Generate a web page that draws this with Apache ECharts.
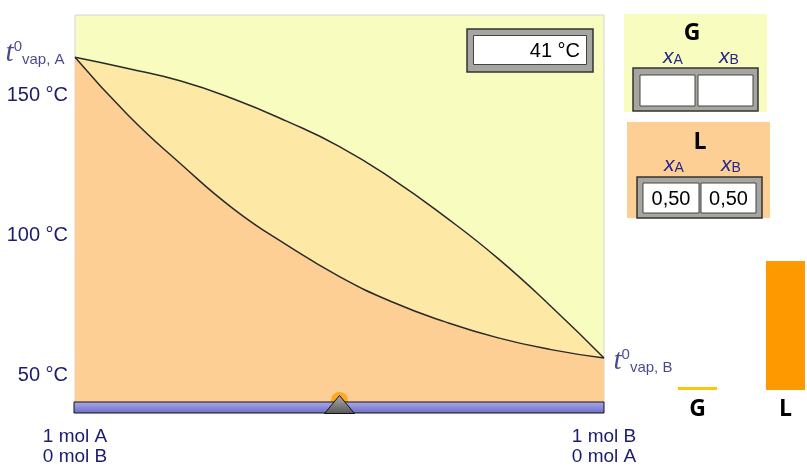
<!DOCTYPE html>
<html>
<head>
<meta charset="utf-8">
<script src="https://cdn.jsdelivr.net/npm/echarts@6/dist/echarts.min.js"></script>
<style>
  html, body { margin: 0; padding: 0; background: #ffffff; }
  #chart { width: 807px; height: 473px; }
</style>
</head>
<body>
<div id="chart"></div>
<script>
// Mole fraction of B along the composition axis
const compositionXB = [0, 0.1, 0.2, 0.3, 0.4, 0.5, 0.6, 0.7, 0.8, 0.9, 1];

// Boiling (liquidus) curve temperatures in °C
const liquidusT = [163.6, 143.0, 125.5, 109.4, 96.6, 85.3, 76.2, 69.1, 63.4, 59.2, 56.2];

// Dew (vapour) curve temperatures in °C
const vapourT = [163.6, 159.6, 155.1, 148.7, 140.8, 131.7, 120.1, 106.6, 91.7, 74.6, 56.2];

// Temperature axis
const tempTicks = [50, 100, 150];
const tempRange = [40.5, 178.7];

// Current state of the mixture
const stateXB = 0.5;
const stateT = 41;

// Phase amounts (mol) and compositions
const phaseNames = ['G', 'L'];
const phaseMoles = [0, 1];
const gasFractions = [null, null];      // xA, xB of the gas phase
const liquidFractions = [0.50, 0.50];   // xA, xB of the liquid phase

const NAVY = '#1b1b70';
const SANS = 'Liberation Sans, Arial, sans-serif';
const BOLD = 'Open Sans, Noto Sans, sans-serif';

const zone = { gas: '#F8FCBF', mix: '#FDE9A5', liquid: '#FDCF95' };

const pairs = (xs, ys) => xs.map((x, i) => [x, ys[i]]);
const fmt = v => (v == null ? '' : v.toFixed(2).replace('.', ','));

const chart = echarts.init(document.getElementById('chart'), null, { renderer: 'canvas' });

const tvapRich = {
  t: { fontFamily: 'Liberation Serif, serif', fontStyle: 'italic', fontSize: 29, color: NAVY, lineHeight: 28 },
  s: { fontFamily: SANS, fontSize: 15, color: NAVY, verticalAlign: 'top', lineHeight: 16 },
  v: { fontFamily: SANS, fontSize: 15, color: NAVY, verticalAlign: 'bottom', lineHeight: 16 }
};

chart.setOption({
  animation: false,
  grid: [
    { left: 75, top: 15, width: 529, height: 387, show: true,
      backgroundColor: zone.gas, borderColor: '#d4d4d4', borderWidth: 1 },
    { left: 697.5, top: 261, width: 88, height: 129 }
  ],
  xAxis: [
    { gridIndex: 0, type: 'value', min: 0, max: 1,
      axisLine: { show: false }, axisTick: { show: false }, splitLine: { show: false },
      axisLabel: {
        customValues: [0, 1], showMinLabel: true, showMaxLabel: true,
        formatter: v => (v === 0 ? '1 mol A\n0 mol B' : '1 mol B\n0 mol A'),
        fontFamily: SANS, fontSize: 19, lineHeight: 20, color: NAVY, margin: 25
      } },
    { gridIndex: 1, type: 'category', data: phaseNames, boundaryGap: false,
      axisLine: { show: false }, axisTick: { show: false },
      axisLabel: { fontFamily: BOLD, fontWeight: 'bold', fontSize: 23, color: '#000', margin: 8 } }
  ],
  yAxis: [
    { gridIndex: 0, type: 'value', min: tempRange[0], max: tempRange[1],
      axisLine: { show: false }, splitLine: { show: false },
      axisTick: { show: true, inside: true, length: 14, customValues: tempTicks,
                  lineStyle: { color: NAVY, width: 1.5 } },
      axisLabel: { customValues: tempTicks, formatter: '{value} °C',
                   fontFamily: SANS, fontSize: 20, color: NAVY, margin: 7 } },
    { gridIndex: 1, type: 'value', min: 0, max: 1, show: false }
  ],
  series: [
    { name: 'vapour', type: 'line', xAxisIndex: 0, yAxisIndex: 0,
      data: pairs(compositionXB, vapourT), smooth: 0.5, showSymbol: false,
      lineStyle: { color: '#2a2a2a', width: 1.5 },
      areaStyle: { color: zone.mix, origin: 'start', opacity: 1 }, z: 2 },
    { name: 'liquid', type: 'line', xAxisIndex: 0, yAxisIndex: 0,
      data: pairs(compositionXB, liquidusT), smooth: 0.5, showSymbol: false,
      lineStyle: { color: '#2a2a2a', width: 1.5 },
      areaStyle: { color: zone.liquid, origin: 'start', opacity: 1 }, z: 3 },
    { name: 'pure', type: 'scatter', xAxisIndex: 0, yAxisIndex: 0,
      symbolSize: 1, itemStyle: { color: 'rgba(0,0,0,0)' }, z: 4,
      data: [
        { value: [0, liquidusT[0]],
          label: { show: true, position: 'left', distance: 10, offset: [0, -4],
                   formatter: '{t|t}{s|0}{v|vap, A}', rich: tvapRich } },
        { value: [1, liquidusT[liquidusT.length - 1]],
          label: { show: true, position: 'right', distance: 9, offset: [0, 3],
                   formatter: '{t|t}{s|0}{v|vap, B}', rich: tvapRich } }
      ] },
    { name: 'state', type: 'scatter', xAxisIndex: 0, yAxisIndex: 0,
      data: [[stateXB, stateT]], symbolSize: 17, clip: false,
      itemStyle: { color: '#FF9C00' }, z: 5 },
    { name: 'amount', type: 'bar', xAxisIndex: 1, yAxisIndex: 1,
      barWidth: 39, barMinHeight: 3,
      data: [
        { value: phaseMoles[0], itemStyle: { color: '#F9C80E' } },
        { value: phaseMoles[1], itemStyle: { color: '#FF9900' } }
      ] }
  ]
});

// Slider bar and thumb below the diagram, placed from the composition axis
const p0 = chart.convertToPixel({ gridIndex: 0 }, [0, tempRange[0]]);
const p1 = chart.convertToPixel({ gridIndex: 0 }, [1, tempRange[0]]);
const ps = chart.convertToPixel({ gridIndex: 0 }, [stateXB, tempRange[0]]);

const boxText = (text, x, y, size, opts) => ({
  type: 'text', z: 110, x, y,
  style: Object.assign({ text, fill: '#000', font: size + 'px ' + SANS,
                         align: 'center', verticalAlign: 'middle' }, opts || {})
});
const xLabel = (sub, x, y) => ({
  type: 'text', z: 110, x, y,
  style: {
    text: '{x|x}{a|' + sub + '}', align: 'center', verticalAlign: 'middle',
    rich: {
      x: { fontFamily: SANS, fontStyle: 'italic', fontSize: 21, fill: '#26268c', lineHeight: 20 },
      a: { fontFamily: SANS, fontSize: 14, fill: '#26268c', verticalAlign: 'bottom', lineHeight: 14 }
    }
  }
});
const frame = (x, y, w, h) => ({ type: 'rect', z: 100, shape: { x, y, width: w, height: h },
  style: { fill: '#a6a6a0', stroke: '#333', lineWidth: 1.5 } });
const cell = (x, y, w, h) => ({ type: 'rect', z: 101, shape: { x, y, width: w, height: h },
  style: { fill: '#fff', stroke: '#444', lineWidth: 1 } });

chart.setOption({
  graphic: [
    // slider track
    { type: 'rect', z: 100, shape: { x: p0[0] - 1, y: p0[1], width: p1[0] - p0[0] + 1, height: 11 },
      style: { stroke: '#111', lineWidth: 1,
               fill: new echarts.graphic.LinearGradient(0, 0, 0, 1,
                 [{ offset: 0, color: '#a9a9ee' }, { offset: 1, color: '#6d6dc4' }]) } },
    // slider thumb
    { type: 'polygon', z: 101,
      shape: { points: [[ps[0] - 15, ps[1] + 11.5], [ps[0], ps[1] - 6.5], [ps[0] + 15, ps[1] + 11.5]] },
      style: { stroke: '#111', lineWidth: 1,
               fill: new echarts.graphic.LinearGradient(0, 0, 0, 1,
                 [{ offset: 0, color: '#b0b0b0' }, { offset: 1, color: '#555' }]) } },

    // temperature read-out
    frame(467, 29, 126, 43),
    cell(473.5, 35.5, 113, 29),
    boxText(stateT + ' °C', 580, 51, 20, { align: 'right' }),

    // gas composition panel
    { type: 'rect', z: 99, shape: { x: 624, y: 14, width: 143, height: 98 }, style: { fill: zone.gas } },
    boxText('G', 692, 33, 23, { font: 'bold 23px ' + BOLD }),
    xLabel('A', 673, 57), xLabel('B', 729, 57),
    frame(633, 68, 125, 43),
    cell(640, 75, 55, 31), cell(698, 75, 55, 31),
    boxText(fmt(gasFractions[0]), 667, 91, 20), boxText(fmt(gasFractions[1]), 725, 91, 20),

    // liquid composition panel
    { type: 'rect', z: 99, shape: { x: 627, y: 122, width: 143, height: 96 }, style: { fill: zone.liquid } },
    boxText('L', 700, 142, 23, { font: 'bold 23px ' + BOLD }),
    xLabel('A', 674, 165), xLabel('B', 731, 165),
    frame(637, 177, 125, 41),
    cell(643, 183, 56, 30), cell(701, 183, 55, 30),
    boxText(fmt(liquidFractions[0]), 671, 199, 20), boxText(fmt(liquidFractions[1]), 728.5, 199, 20)
  ]
});
</script>
</body>
</html>
